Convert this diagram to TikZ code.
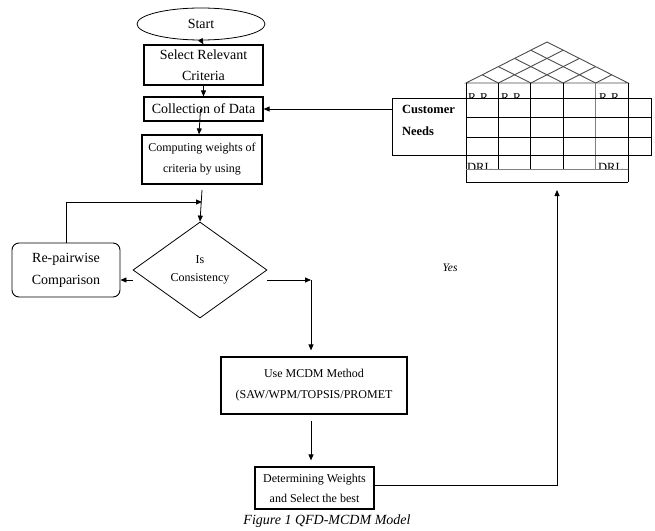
\documentclass[tikz,border=0pt]{standalone}
\usepackage{fontspec}
\setmainfont{Liberation Serif}
\usetikzlibrary{arrows.meta}
\usetikzlibrary{shapes.geometric}
\usetikzlibrary{calc,positioning}

\begin{document}
\begin{tikzpicture}[x=1pt,y=-1pt,>={Triangle[length=6pt,width=5pt]},
    box/.style={draw, line width=1.2pt, inner sep=0pt, align=center, font=\fontsize{14}{21}\selectfont},
    smallbox/.style={box, font=\fontsize{12}{21}\selectfont},
    flow/.style={line width=0.8pt},
    hq/.style={line width=0.9pt, gray!60!black},
    grid/.style={line width=1pt}]
    \useasboundingbox (0,0) rectangle (655,530);

    \node[draw, ellipse, line width=0.8pt, minimum width=128pt, minimum height=32pt, inner sep=0pt, font=\fontsize{14}{17}\selectfont] (start) at (201,24) {Start};
    \node[box, minimum width=119pt, minimum height=40pt] (sel) at (203.5,65) {Select Relevant\\Criteria};
    \node[box, minimum width=119pt, minimum height=24pt] (coll) at (203.5,109) {Collection of Data};
    \node[smallbox, minimum width=120pt, minimum height=49pt] (comp) at (202,159.5) {Computing weights of\\criteria by using};
    \node[draw, diamond, line width=0.8pt, minimum width=134pt, minimum height=96pt, inner sep=0pt, align=center, font=\fontsize{12}{18}\selectfont] (dia) at (200,270) {Is\\Consistency};
    \node[box, line width=0.9pt, rounded corners=7pt, minimum width=108pt, minimum height=54pt, font=\fontsize{14}{22}\selectfont] (rep) at (66,270) {Re-pairwise\\Comparison};
    \node[smallbox, minimum width=186pt, minimum height=57pt] (mcdm) at (314,385.5) {Use MCDM Method\\(SAW/WPM/TOPSIS/PROMET};
    \node[smallbox, minimum width=119pt, minimum height=42pt, font=\fontsize{12}{20}\selectfont] (det) at (314.5,488) {Determining Weights\\and Select the best};

    \coordinate (top) at (202,190);
    \coordinate (loop) at (202,202);
    \coordinate (turn) at (311,280);
    \coordinate (hqin) at (557,190);

    \draw[flow,->] (start.south) -- (sel.north);
    \draw[flow,->] (sel.south) -- (coll.north);
    \draw[flow,->] ([xshift=-3pt]coll.center) -- ([xshift=-3pt]comp.north);
    \draw[flow,->] (top) -- (dia.north);
    \draw[flow,->] (rep.north) |- (loop);
    \draw[flow,->] ([yshift=-10pt]dia.west) -- ([yshift=-10pt]rep.east);
    \draw[flow,->] ([yshift=-10pt]dia.east) -- (turn);
    \draw[flow,->] (turn) -- ([yshift=6pt]turn |- mcdm.north);
    \draw[flow,->, shorten <=6pt, shorten >=6pt] (turn |- mcdm.south) -- (turn |- det.north);
    \draw[flow,->] ([yshift=3pt]det.east) -| (hqin);

    \node[font=\fontsize{11.5}{14}\selectfont\itshape] (yes) at (450,268) {Yes};

    \begin{scope}
      \clip (466,83) rectangle (628,97.5);
      \foreach \x/\n in {468/1,501/2,599/3}
        \node[anchor=north west, inner sep=0pt, font=\fontsize{12}{14}\selectfont] (rr\n) at (\x,93.5) {R\,\,R};
    \end{scope}
    \begin{scope}
      \clip (466,150) rectangle (628,168.5);
      \foreach \x/\n in {467/1,598/2}
        \node[anchor=north west, inner sep=0pt, font=\fontsize{12.5}{14}\selectfont] (drl\n) at (\x,163) {DRL};
    \end{scope}

    \draw[hq] (466,83) -- (547,42) -- (628,83) -- cycle;
    \foreach \i in {1,...,4}{
      \draw[hq] ({466+32.4*\i},83) -- ({(628+466+32.4*\i)/2},{83-0.253*(628-466-32.4*\i)});
      \draw[hq] ({466+32.4*\i},83) -- ({(466+466+32.4*\i)/2},{83-0.253*(32.4*\i)});
    }

    \node[draw, grid, minimum width=74pt, minimum height=57pt, inner sep=0pt] (cust) at (429,126.5) {};
    \node[align=left, inner sep=0pt, font=\fontsize{12.5}{22}\selectfont\bfseries] (custtxt) at (428.5,120) {Customer\\Needs};
    \draw[grid] (466,83) -- (466,182);
    \foreach \x in {498.4,530.8,563.2} \draw[flow] (\x,83) -- (\x,169);
    \draw[flow, gray] (595.6,83) -- (595.6,169);
    \draw[flow] (628,83) -- (628,182);
    \draw[grid] (466,98) -- (651,98) -- (651,155) -- (466,155);
    \foreach \y in {117.5,137} \draw[grid] (466,\y) -- (651,\y);
    \draw[flow, gray] (466,169) -- (628,169);
    \draw[flow] (466,182) -- (628,182);

    \draw[flow,->] (cust.west |- coll.east) -- (coll.east);

    \node[font=\fontsize{14}{17}\selectfont\itshape] (cap) at (327,521) {Figure 1 QFD-MCDM Model};
\end{tikzpicture}
\end{document}
